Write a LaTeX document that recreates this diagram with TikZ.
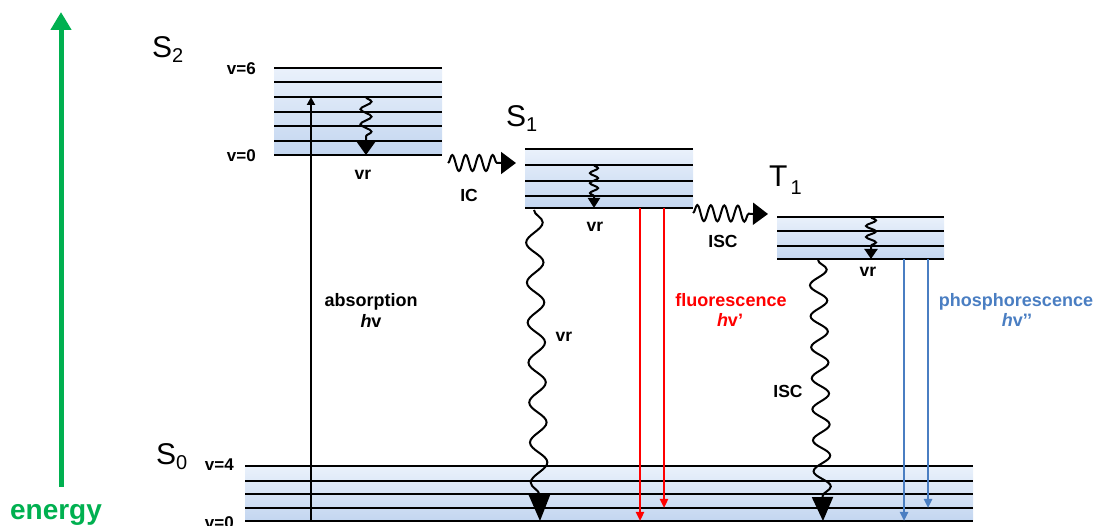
\documentclass[tikz,border=0pt]{standalone}
\usepackage{fontspec}
\setmainfont{Liberation Sans}
\usetikzlibrary{arrows.meta,decorations.pathmorphing}
\definecolor{egreen}{HTML}{00B050}
\definecolor{fred}{HTML}{FF0000}
\definecolor{pblue}{HTML}{4A7EC2}
\definecolor{bandtop}{HTML}{EAF1FB}
\definecolor{bandbot}{HTML}{C3D6F0}
\begin{document}
\begin{tikzpicture}[x=1pt,y=-1pt,
  level/.style={line width=2.4pt, line cap=butt},
  band/.style={top color=bandtop, bottom color=bandbot, draw=none},
  smalllbl/.style={font=\fontsize{17.5}{17.5}\selectfont\bfseries, inner sep=0pt, anchor=base},
  biglbl/.style={font=\fontsize{18}{18}\selectfont\bfseries, inner sep=0pt, anchor=base},
  vlbl/.style={font=\fontsize{17}{17}\selectfont\bfseries, inner sep=0pt, anchor=base east},
  statelbl/.style={font=\fontsize{30}{30}\selectfont, inner sep=0pt, anchor=base west},
  wavebig/.style={decorate, line width=2pt,
    decoration={snake, amplitude=8.5pt, post length=24pt},
    -{Triangle[width=21pt,length=24pt]}},
  wavesmall/.style={decorate, line width=2pt,
    decoration={snake, amplitude=4.5pt, post length=11pt},
    -{Triangle[width=14pt,length=11pt]}},
  wavehoriz/.style={decorate, line width=2pt,
    decoration={snake, segment length=13.5pt, amplitude=8pt, post length=15pt},
    -{Triangle[width=22pt,length=15pt]}},
  photon/.style={line width=2.3pt, -{Triangle[width=8pt,length=9pt]}}
]
\useasboundingbox (0,0) rectangle (1096,526);

% ---- bands ----
\fill[band] (274,68) rectangle (442,155);
\fill[band] (525,149) rectangle (693,208);
\fill[band] (777,217) rectangle (944,259);
\fill[band] (245,466) rectangle (973,521);

% ---- vibrational levels ----
\foreach \y in {68,82,97,112,126,141,155} \draw[level] (274,\y) -- (442,\y);
\foreach \y in {149,165,181,196,208} \draw[level] (525,\y) -- (693,\y);
\foreach \y in {217,231,246,259} \draw[level] (777,\y) -- (944,\y);
\foreach \y in {466,481,494,508,521} \draw[level] (245,\y) -- (973,\y);

% ---- state labels ----
\node[statelbl] (S2) at (152,58) {S\raisebox{-5pt}{\fontsize{20}{20}\selectfont 2}};
\node[statelbl] (S1) at (506,127) {S\raisebox{-5pt}{\fontsize{20}{20}\selectfont 1}};
\node[statelbl] (T1) at (769,187) {T\kern3pt\raisebox{-8pt}{\fontsize{20}{20}\selectfont 1}};
\node[statelbl] (S0) at (156,465) {S\raisebox{-5pt}{\fontsize{20}{20}\selectfont 0}};

\node[vlbl] (v6) at (256,75) {v=6};
\node[vlbl] (v0a) at (256,162) {v=0};
\node[vlbl] (v4) at (234,471) {v=4};
\node[vlbl] (v0b) at (234,529) {v=0};

% ---- energy axis ----
\coordinate (eA) at (61,487);
\coordinate (eB) at (61,12);
\draw[egreen, line width=5pt, -{Triangle[width=20pt,length=18pt]}] (eA) -- (eB);
\node[font=\fontsize{28}{28}\selectfont\bfseries, text=egreen, inner sep=0pt, anchor=base] (energy) at (56,520) {energy};

% ---- absorption ----
\coordinate (absA) at (311,521);
\coordinate (absB) at (311,97);
\draw[line width=2.2pt, -{Triangle[width=8pt,length=8pt]}] (absA) -- (absB);
\node[biglbl] (absl) at (371,307) {absorption};
\node[biglbl] (absh) at (371,328) {\textit{h}v};

% ---- vibrational relaxation inside states ----
\coordinate (vr2a) at (366,97);
\coordinate (vr2b) at (366,155);
\draw[wavesmall, decoration={segment length=15pt, amplitude=5.5pt, post length=13pt},
  -{Triangle[width=18pt,length=13pt]}] (vr2a) -- (vr2b);
\node[smalllbl] (vr2) at (363,180) {vr};

\coordinate (vr1a) at (594,165);
\coordinate (vr1b) at (594,208);
\draw[wavesmall, decoration={segment length=10pt, amplitude=4pt, post length=10pt},
  -{Triangle[width=12pt,length=10pt]}] (vr1a) -- (vr1b);
\node[smalllbl] (vr1) at (595,232) {vr};

\coordinate (vrTa) at (871,217);
\coordinate (vrTb) at (871,259);
\draw[wavesmall, decoration={segment length=11pt, amplitude=5pt, post length=10pt},
  -{Triangle[width=13pt,length=10pt]}] (vrTa) -- (vrTb);
\node[smalllbl] (vrT) at (868,277) {vr};

% ---- IC and ISC (horizontal) ----
\coordinate (icA) at (448,163);
\coordinate (icB) at (516,163);
\draw[wavehoriz] (icA) -- (icB);
\node[smalllbl] (ic) at (469,202) {IC};

\coordinate (iscA) at (693,213);
\coordinate (iscB) at (768,214);
\draw[wavehoriz] (iscA) -- (iscB);
\node[smalllbl] (isc1) at (723,248) {ISC};

% ---- non-radiative decays to S0 ----
\coordinate (vrSa) at (534,210);
\coordinate (vrSb) at (540,521);
\draw[wavebig, decoration={segment length=40pt, post length=26pt},
  -{Triangle[width=21pt,length=26pt]}] (vrSa) -- (vrSb);
\node[smalllbl] (vrS) at (564,342) {vr};

\coordinate (iscTa) at (818,260);
\coordinate (iscTb) at (823,521);
\draw[wavebig, decoration={segment length=31pt}] (iscTa) -- (iscTb);
\node[smalllbl] (isc2) at (788,398) {ISC};

% ---- fluorescence ----
\coordinate (fA1) at (640,208);
\coordinate (fB1) at (640,521);
\coordinate (fA2) at (664,208);
\coordinate (fB2) at (664,508);
\draw[photon, fred] (fA1) -- (fB1);
\draw[photon, fred] (fA2) -- (fB2);
\node[biglbl, text=fred] (fl) at (731,307) {fluorescence};
\node[biglbl, text=fred] (flh) at (730,327) {\textit{h}v’};

% ---- phosphorescence ----
\coordinate (pA1) at (904,259);
\coordinate (pB1) at (904,521);
\coordinate (pA2) at (928,259);
\coordinate (pB2) at (928,508);
\draw[photon, pblue] (pA1) -- (pB1);
\draw[photon, pblue] (pA2) -- (pB2);
\node[biglbl, text=pblue] (ph) at (1016,307) {phosphorescence};
\node[biglbl, text=pblue] (phh) at (1017,327) {\textit{h}v’’};
\end{tikzpicture}
\end{document}
